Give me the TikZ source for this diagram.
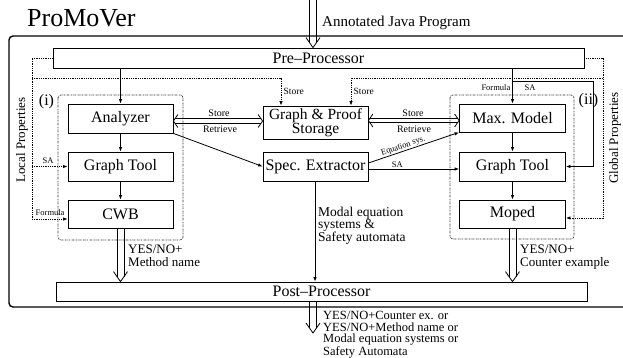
\documentclass[tikz,border=0pt]{standalone}
\usepackage{fontspec}
\setmainfont{Liberation Serif}
\usetikzlibrary{arrows.meta,calc}
\newcommand\fs[1]{\fontsize{#1}{#1}\selectfont}
\newcommand\hollowdown[2]{%
  \draw[ln] ($(#1)+(-3.5,0)$) -- ($(#2)+(-3.5,-5)$);
  \draw[ln] ($(#1)+(3.5,0)$) -- ($(#2)+(3.5,-5)$);
  \draw[ln] ($(#2)+(-7,-10)$) -- (#2) -- ($(#2)+(7,-10)$);}
\newcommand\dblboth[2]{%
  \draw[ln] ($(#1)+(1.5,-2.2)$) -- ($(#2)+(-1.5,-2.2)$);
  \draw[ln] ($(#1)+(1.5,2.2)$) -- ($(#2)+(-1.5,2.2)$);
  \draw[ln] ($(#1)+(4.5,-6.5)$) -- (#1) -- ($(#1)+(4.5,6.5)$);
  \draw[ln] ($(#2)+(-4.5,-6.5)$) -- (#2) -- ($(#2)+(-4.5,6.5)$);}
\begin{document}
\begin{tikzpicture}[x=1pt,y=-1pt,
  box/.style={draw, line width=0.8pt, inner sep=0pt, font=\fs{16}},
  ln/.style={line width=0.8pt},
  arr/.style={ln, -{Latex[length=4.5pt,width=3.5pt]}},
  dot/.style={line width=0.8pt, densely dotted},
  darr/.style={dot, -{Latex[length=4.5pt,width=3.5pt]}},
  grp/.style={line width=0.7pt, gray!40!black, rounded corners=3pt,
    dash pattern=on 1.6pt off 0.8pt on 0.4pt off 0.8pt},
  small/.style={font=\fs{8.5}, inner sep=0.5pt},
  lab/.style={font=\fs{10}, inner sep=0.5pt},
  txt/.style={inner sep=0pt, align=left, anchor=north west},
]
\useasboundingbox (0,0) rectangle (623,358);
\begin{scope}
  \clip (0,0) rectangle (623,358);
  \draw[line width=1.4pt, rounded corners=4pt] (9,36) rectangle (650,307);
\end{scope}

% title and input
\node[anchor=base west, inner sep=0pt, font=\fs{26}] (title) at (27,27) {ProMoVer};
\node[anchor=base west, inner sep=0pt, font=\fs{15}] (inlab) at (322,26.5) {Annotated Java Program};

% group boxes
\draw[grp] (58,95) rectangle (183,240);
\draw[grp] (450,95) rectangle (574,239);
\node[inner sep=0pt, font=\fs{16}, anchor=base] (gi) at (46.5,106) {(i)};
\node[inner sep=0pt, font=\fs{16}, anchor=base] (gii) at (588.5,105) {(ii)};
\node[rotate=90, inner sep=0pt, font=\fs{13}] (locp) at (22,140) {Local Properties};
\node[rotate=90, inner sep=0pt, font=\fs{13}] (glop) at (615,138) {Global Properties};

% nodes
\node[box, minimum width=531pt, minimum height=20pt] (pre) at (318.5,58) {Pre--Processor};
\node[box, minimum width=531pt, minimum height=19pt] (post) at (321.5,291.5) {Post--Processor};
\node[box, minimum width=105pt, minimum height=29pt] (analyzer) at (120.5,118.5) {Analyzer};
\node[box, minimum width=105pt, minimum height=29pt] (gtl) at (120.5,166.5) {Graph Tool};
\node[box, minimum width=105pt, minimum height=28pt] (cwb) at (120.5,214) {CWB};
\node[box, minimum width=105pt, minimum height=33pt, align=center, font=\fontsize{15.5}{12.5}\selectfont] (storage) at (315.5,122.5) {Graph \& Proof\\Storage};
\node[box, minimum width=105pt, minimum height=29pt] (spec) at (315.5,166.5) {Spec. Extractor};
\node[box, minimum width=106pt, minimum height=28pt] (maxm) at (512.5,118) {Max. Model};
\node[box, minimum width=106pt, minimum height=29pt] (gtr) at (512.5,166.5) {Graph Tool};
\node[box, minimum width=106pt, minimum height=28pt] (moped) at (512.5,214) {Moped};

% input / output arrows
\coordinate (src) at (313,0);
\hollowdown{src}{src |- pre.north}
\coordinate (outtip) at (313,333);
\hollowdown{outtip |- post.south}{outtip}
\node[txt, font=\fontsize{12.5}{11.4}\selectfont] (outlab) at (323,311.5)
  {YES/NO+Counter ex. or\\YES/NO+Method name or\\Modal equation systems or\\Safety Automata};

% left column
\draw[arr] (analyzer.north |- pre.south) -- (analyzer.north);
\draw[arr] (analyzer) -- (gtl);
\draw[arr] (gtl) -- (cwb);
\hollowdown{cwb.south}{cwb.south |- post.north}
\node[txt, font=\fontsize{13}{12.7}\selectfont] (yl) at (128,245) {YES/NO+\\Method name};

% right column
\draw[arr] (maxm.north |- pre.south) -- (maxm.north);
\draw[arr] (maxm) -- (gtr);
\draw[arr] (gtr) -- (moped);
\hollowdown{moped.south}{moped.south |- post.north}
\node[txt, font=\fontsize{13}{12.7}\selectfont] (yr) at (520,245) {YES/NO+\\Counter example};
\coordinate (sa0) at (maxm.north |- 0,81);
\draw[arr] (sa0) -- (593,81) |- (gtr.east);
\node[small, anchor=east] (formr) at (511,88) {Formula};
\node[small] (sar) at (530,88) {SA};

% middle
\draw[arr] (analyzer.south east) -- (spec.west);
\draw[arr] ($(spec.east)+(0,-3.5)$) -- node[small, pos=0.4, above, sloped] {Equation sys.} (maxm.south west);
\draw[arr] ($(spec.east)+(0,2.5)$) -- node[small, pos=0.32, above=1pt] {SA} (gtr.west |- 0,169);
\draw[arr] (spec.south -| 315,0) -- (315,0 |- post.north);
\node[txt, font=\fontsize{13.5}{12.5}\selectfont] (mlab) at (318,206.5) {Modal equation\\ systems \&\\Safety automata};

\coordinate (yy) at (0,121);
\dblboth{analyzer.east |- yy}{storage.west |- yy}
\node[lab] (st1) at (219,113) {Store};
\node[lab] (re1) at (220,129) {Retrieve};
\coordinate (yz) at (0,120.5);
\dblboth{storage.east |- yz}{maxm.west |- yz}
\node[lab] (st2) at (413,113) {Store};
\node[lab] (re2) at (414,129) {Retrieve};

% dotted property lines
\draw[dot] (pre.west) -| (32,219);
\draw[darr] (32,166.5) -- (gtl.west);
\draw[darr] (32,219) -- (cwb.west |- 0,219);
\node[small] (sal) at (48,161) {SA};
\node[small, anchor=west] (forml) at (35,212.5) {Formula};
\draw[darr] (32,78) -| (281,0 |- storage.north);
\draw[darr] (603,78) -| (351,0 |- storage.north);
\node[small, anchor=west, font=\fs{9.5}] (sd1) at (283,91) {Store};
\node[small, anchor=west, font=\fs{9.5}] (sd2) at (353,91) {Store};
\draw[dot] (pre.east) -| (603,218);
\draw[darr] (603,218) -- (moped.east |- 0,218);
\end{tikzpicture}
\end{document}
